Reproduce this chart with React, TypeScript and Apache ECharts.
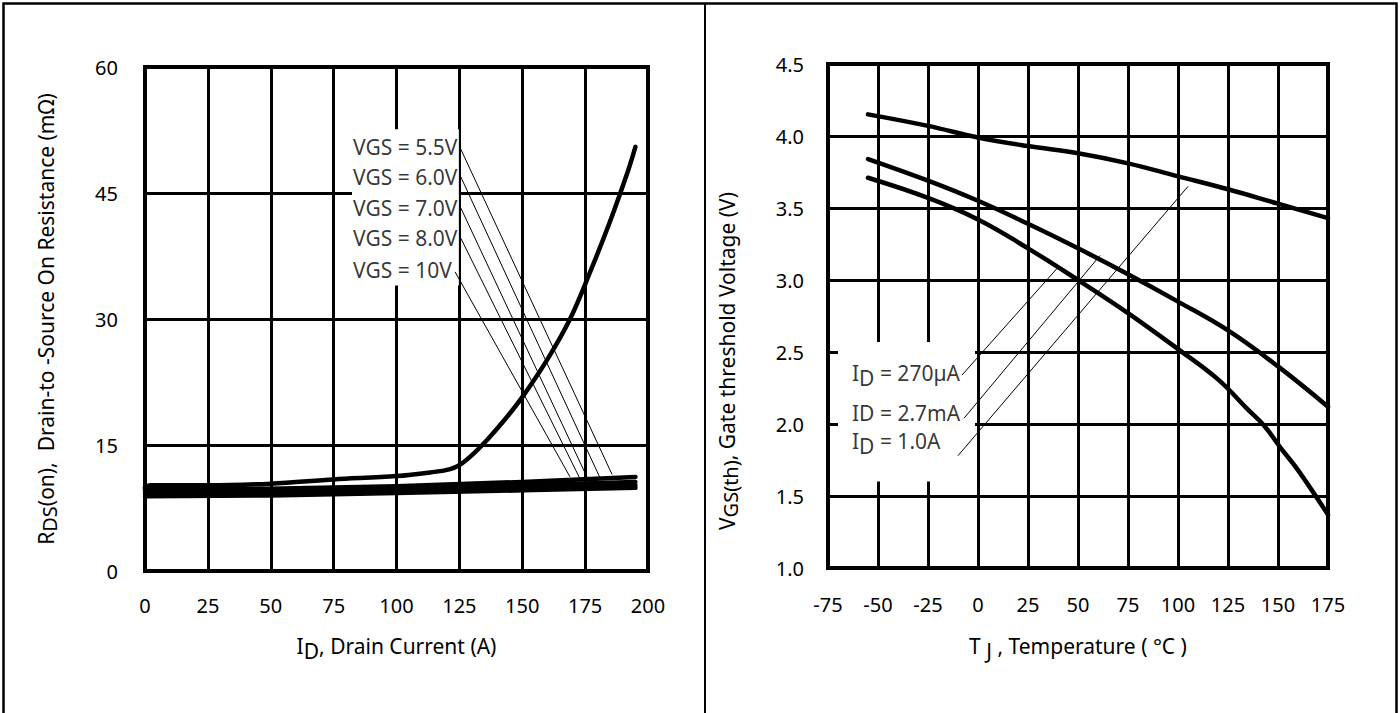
import React, { useEffect, useRef } from 'react';
import * as echarts from 'echarts';

// ---------- Left chart: RDS(on) vs ID ----------
const vgs55 = [[0, 9.9], [2, 10.2], [25, 10.2], [50, 10.4], [75, 10.9], [100, 11.3], [115, 11.8], [121, 12.1], [125, 12.6], [130, 13.8], [136, 15.6], [143, 18.0], [150, 20.7], [160, 25.2], [169, 30.0], [177, 35.6], [185, 41.7], [192, 47.6], [195, 50.5]];
const vgs60 = [[0, 9.8], [50, 9.8], [100, 10.1], [150, 10.6], [195, 11.2]];
const vgs70 = [[0, 9.6], [50, 9.6], [100, 9.9], [150, 10.2], [195, 10.6]];
const vgs80 = [[0, 9.3], [50, 9.3], [100, 9.6], [150, 9.9], [195, 10.2]];
const vgs10 = [[0, 8.9], [50, 9.0], [100, 9.3], [150, 9.6], [195, 9.9]];
const leftLabels = ['VGS = 5.5V', 'VGS = 6.0V', 'VGS = 7.0V', 'VGS = 8.0V', 'VGS = 10V'];
const leftLabelX = 82.7;
const leftLabelY = [50.5, 46.9, 43.2, 39.6, 35.8];
const leftLeaders = [
  [[125.6, 50.2], [185.7, 11.5]],
  [[125.6, 46.9], [180.9, 11.1]],
  [[125.6, 43.2], [176.1, 10.95]],
  [[125.6, 39.6], [173.0, 10.95]],
  [[123.3, 35.6], [169.0, 11.2]],
];
const leftBox = [[82.3, 52.6], [124.8, 34.0]];

// ---------- Right chart: VGS(th) vs TJ ----------
const vth270uA = [[-55, 3.71], [-25, 3.57], [0, 3.42], [25, 3.22], [50, 3.0], [75, 2.77], [100, 2.52], [120, 2.31], [135, 2.1], [143, 1.99], [151, 1.84], [160, 1.68], [175, 1.37]];
const vth27mA = [[-55, 3.84], [-25, 3.69], [0, 3.55], [25, 3.39], [50, 3.22], [75, 3.04], [100, 2.85], [125, 2.65], [150, 2.4], [175, 2.12]];
const vth1A = [[-55, 4.15], [-25, 4.07], [0, 3.99], [25, 3.93], [50, 3.88], [75, 3.81], [100, 3.72], [125, 3.63], [150, 3.53], [175, 3.43]];
const rightLabels = ['{n|I}{s|D}{n| = 270µA}', '{n|ID = 2.7mA}', '{n|I}{s|D}{n| = 1.0A}'];
const rightLabelX = -63;
const rightLabelY = [2.354, 2.076, 1.88];
const rightLeaders = [
  [[-8, 2.34], [39.5, 3.08]],
  [[-7, 2.04], [61, 3.17]],
  [[-10, 1.78], [105, 3.65]],
];
const rightBox = [[-70, 2.57], [-1.5, 1.6]];

const FONT = 'Noto Sans';

export default function App() {
  const ref = useRef<HTMLDivElement>(null);
  useEffect(() => {
    if (!ref.current) return;
    const chart = echarts.init(ref.current, undefined, { renderer: 'svg' });

    const curve = (data: number[][], xi: number, width = 4.5, smooth: number | boolean = false) => ({
      type: 'line',
      xAxisIndex: xi,
      yAxisIndex: xi,
      data,
      smooth,
      symbol: 'none',
      silent: true,
      lineStyle: { color: '#000', width, cap: 'round', join: 'round' },
      z: 5,
    });
    const leader = (seg: number[][], xi: number) => ({
      type: 'line',
      xAxisIndex: xi,
      yAxisIndex: xi,
      data: seg,
      symbol: 'none',
      silent: true,
      lineStyle: { color: '#000', width: 1 },
      z: 6,
    });
    const subRich = {
      n: { fontSize: 21, lineHeight: 30, color: '#000', fontFamily: FONT },
      s: { fontSize: 21, lineHeight: 8, verticalAlign: 'bottom', color: '#000', fontFamily: FONT },
    };

    const axisLabel = (margin: number, fmt?: (v: number) => string) => ({
      color: '#000',
      fontSize: 20,
      fontFamily: FONT,
      margin,
      formatter: fmt,
    });
    const split = { show: true, lineStyle: { color: '#000', width: 3 } };

    const option: any = {
      animation: false,
      backgroundColor: '#fff',
      textStyle: { fontFamily: FONT },
      graphic: [
        { type: 'rect', shape: { x: 3.5, y: 3.5, width: 1393, height: 730 }, style: { fill: 'none', stroke: '#000', lineWidth: 2.5 }, z: 100 },
        { type: 'line', shape: { x1: 705, y1: 3.5, x2: 705, y2: 713 }, style: { stroke: '#000', lineWidth: 2 }, z: 100 },
      ],
      grid: [
        { left: 145, top: 67, width: 503, height: 504, show: true, borderColor: '#000', borderWidth: 4, backgroundColor: 'transparent' },
        { left: 828, top: 64, width: 500, height: 504, show: true, borderColor: '#000', borderWidth: 4, backgroundColor: 'transparent' },
      ],
      xAxis: [
        {
          type: 'value', gridIndex: 0, min: 0, max: 200, interval: 25,
          axisLine: { show: false }, axisTick: { show: false }, splitLine: split,
          axisLabel: axisLabel(24),
          name: '{n|I}{s|D}{n|, Drain Current (A)}', nameLocation: 'middle', nameGap: 60,
          nameTextStyle: { rich: subRich },
        },
        {
          type: 'value', gridIndex: 1, min: -75, max: 175, interval: 25,
          axisLine: { show: false }, axisTick: { show: false }, splitLine: split,
          axisLabel: axisLabel(26),
          name: '{n|T}{s| J}{n| , Temperature ( °C )}', nameLocation: 'middle', nameGap: 63,
          nameTextStyle: { rich: subRich },
        },
      ],
      yAxis: [
        {
          type: 'value', gridIndex: 0, min: 0, max: 60, interval: 15,
          axisLine: { show: false }, axisTick: { show: false }, splitLine: split,
          axisLabel: axisLabel(27),
          name: '{n|R}{s|DS}{n|(on),  Drain-to -Source On Resistance (mΩ)}', nameLocation: 'middle', nameRotate: 90, nameGap: 86,
          nameTextStyle: {
            rich: {
              n: { fontSize: 21, lineHeight: 26, color: '#000', fontFamily: FONT },
              s: { fontSize: 20, lineHeight: 14, verticalAlign: 'bottom', color: '#000', fontFamily: FONT },
            },
          },
        },
        {
          type: 'value', gridIndex: 1, min: 1, max: 4.5, interval: 0.5,
          axisLine: { show: false }, axisTick: { show: false }, splitLine: split,
          axisLabel: axisLabel(24, (v: number) => v.toFixed(1)),
          name: '{n|V}{s|GS(th)}{n|, Gate threshold Voltage (V)}', nameLocation: 'middle', nameRotate: 90, nameGap: 88,
          nameTextStyle: {
            padding: [0, 90, 0, 0],
            rich: {
              n: { fontSize: 21, lineHeight: 26, color: '#000', fontFamily: FONT },
              s: { fontSize: 20, lineHeight: 14, verticalAlign: 'bottom', color: '#000', fontFamily: FONT },
            },
          },
        },
      ],
      series: [
        // white label backgrounds
        {
          type: 'line', xAxisIndex: 0, yAxisIndex: 0, data: [], silent: true, z: 3,
          markArea: { silent: true, itemStyle: { color: '#fff', opacity: 1 }, data: [[{ coord: leftBox[0] }, { coord: leftBox[1] }]] },
        },
        {
          type: 'line', xAxisIndex: 1, yAxisIndex: 1, data: [], silent: true, z: 3,
          markArea: { silent: true, itemStyle: { color: '#fff', opacity: 1 }, data: [[{ coord: rightBox[0] }, { coord: rightBox[1] }]] },
        },
        curve(vgs10, 0),
        curve(vgs80, 0),
        curve(vgs70, 0),
        curve(vgs60, 0),
        curve(vgs55, 0, 4.5, 0.35),
        ...leftLeaders.map((s) => leader(s, 0)),
        {
          type: 'scatter', xAxisIndex: 0, yAxisIndex: 0, symbolSize: 0, silent: true, z: 7,
          data: leftLabels.map((t, i) => ({ value: [leftLabelX, leftLabelY[i]], name: t })),
          label: { show: true, position: 'right', distance: 0, formatter: (p: any) => p.name, color: '#000', fontSize: 21, fontFamily: FONT },
        },
        curve(vth270uA, 1, 4.5, 0.4),
        curve(vth27mA, 1, 4.5, 0.4),
        curve(vth1A, 1, 4.5, 0.4),
        ...rightLeaders.map((s) => leader(s, 1)),
        {
          type: 'scatter', xAxisIndex: 1, yAxisIndex: 1, symbolSize: 0, silent: true, z: 7,
          data: rightLabels.map((t, i) => ({ value: [rightLabelX, rightLabelY[i]], name: t })),
          label: { show: true, position: 'right', distance: 0, formatter: (p: any) => p.name, rich: subRich },
        },
      ],
    };
    chart.setOption(option);
    return () => chart.dispose();
  }, []);
  return <div ref={ref} style={{ position: 'absolute', left: 0, top: 0, width: 1400, height: 713 }} />;
}
